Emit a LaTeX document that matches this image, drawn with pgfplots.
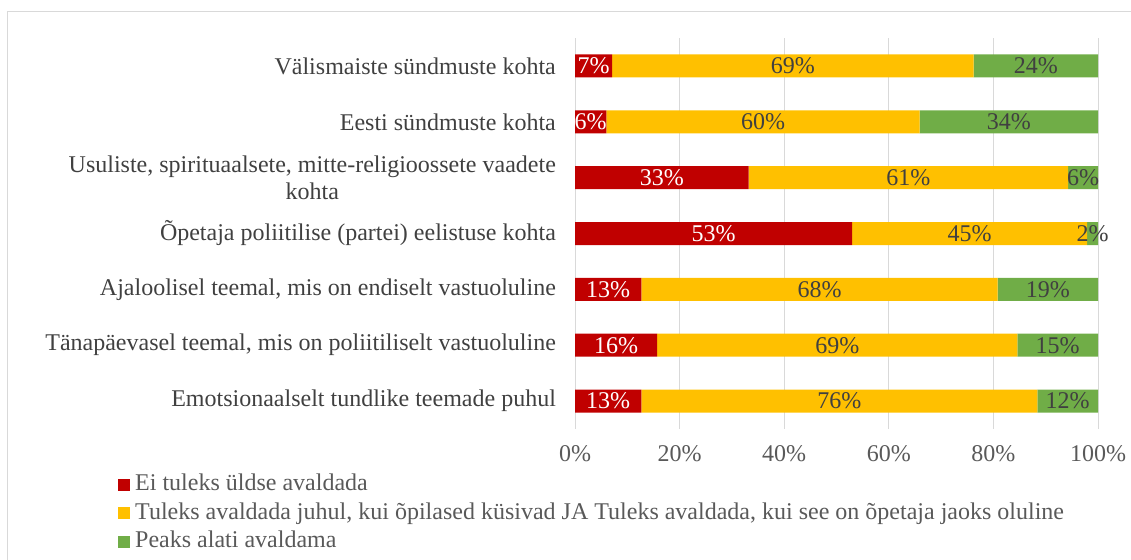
\documentclass[border=0pt]{standalone}
\usepackage{pgfplots}
\pgfplotsset{compat=1.18}
\usepackage{pgfplotstable}
\usepackage{fontspec}
\setmainfont{Liberation Serif}

\definecolor{cRed}{HTML}{C00000}
\definecolor{cOrange}{HTML}{FFC000}
\definecolor{cGreen}{HTML}{70AD47}
\definecolor{cGrid}{HTML}{D9D9D9}
\definecolor{cText}{HTML}{404040}
\definecolor{cTick}{HTML}{595959}
\newcommand\cf{\fontsize{18}{20.5}\selectfont}

% shares in %, row 0 = top category
\pgfplotstableread{
y r o g
0 7.1 69.1 23.8
1 6.0 59.9 34.1
2 33.2 61.1 5.7
3 53.0 44.9 2.1
4 12.7 68.1 19.2
5 15.7 68.9 15.4
6 12.7 75.7 11.6
}\shares

\begin{document}
\begin{tikzpicture}
\useasboundingbox (0,0) rectangle (848.25pt,420pt);
\draw[cGrid, line width=0.75pt] (5.25pt,0) -- (5.25pt,411pt) -- (848.25pt,411pt);
\begin{axis}[
    at={(431.25pt,98.25pt)}, anchor=south west,
    scale only axis, width=392.25pt, height=293.25pt,
    xbar stacked, bar width=17.25pt,
    xmin=0, xmax=100, ymin=-0.5, ymax=6.5, y dir=reverse,
    axis line style={draw=none}, major tick length=0pt,
    xmajorgrids, grid style={cGrid, line width=0.75pt},
    xtick={0,20,...,100},
    xticklabel={\pgfmathprintnumber{\tick}\%},
    /pgf/number format/assume math mode=true,
    xticklabel style={font=\cf, text=cTick, yshift=-9pt},
    ytick={0,...,6},
    yticklabels={
        Välismaiste sündmuste kohta,
        Eesti sündmuste kohta,
        {Usuliste, spirituaalsete, mitte-religioossete vaadete\\kohta},
        Õpetaja poliitilise (partei) eelistuse kohta,
        {Ajaloolisel teemal, mis on endiselt vastuoluline},
        {Tänapäevasel teemal, mis on poliitiliselt vastuoluline},
        Emotsionaalselt tundlike teemade puhul},
    yticklabel style={font=\cf, text=cText, align=center, xshift=-10.8pt},
    point meta=explicit,
    nodes near coords={\pgfmathprintnumber[fixed,precision=0]{\pgfplotspointmeta}\%},
    every node near coord/.append style={font=\cf, anchor=center},
    legend style={draw=none, fill=none, at={(-0.8815,-0.1074)}, anchor=north west,
        legend cell align=left, font=\cf, text=cTick, row sep=5.4pt,
        nodes={inner sep=0pt, text height=12.5pt, text depth=3.5pt},
        /tikz/every odd column/.append style={column sep=3.75pt}},
    legend image code/.code={\fill[#1] (0pt,-4.5pt) rectangle (9pt,4.5pt);},
]
\addplot[fill=cRed, draw=none, every node near coord/.append style={text=white}]
    table[x=r, y=y, meta=r] {\shares};
\addplot[fill=cOrange, draw=none, every node near coord/.append style={text=cText}]
    table[x=o, y=y, meta=o] {\shares};
\addplot[fill=cGreen, draw=none, every node near coord/.append style={text=cText}]
    table[x=g, y=y, meta=g] {\shares};
\legend{Ei tuleks üldse avaldada,
    Tuleks avaldada juhul{,} kui õpilased küsivad JA Tuleks avaldada{,} kui see on õpetaja jaoks oluline,
    Peaks alati avaldama}
\end{axis}
\end{tikzpicture}
\end{document}
